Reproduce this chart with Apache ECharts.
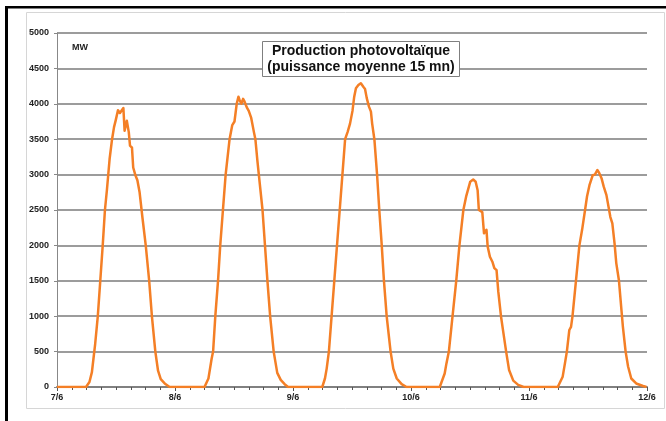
<!DOCTYPE html>
<html><head><meta charset="utf-8">
<script src="https://cdn.jsdelivr.net/npm/echarts@6/dist/echarts.min.js"></script>
<style>html,body{margin:0;padding:0;background:#fff}#c{width:666px;height:421px}</style>
</head><body><div id="c"></div>
<script>
// X tick labels (one per day, midnight)
const xTickLabels = ['7/6', '8/6', '9/6', '10/6', '11/6', '12/6'];
const hoursPerDay = 24;
const yMin = 0, yMax = 5000, yStep = 500;
const titleLines = ['Production photovoltaïque', '(puissance moyenne 15 mn)'];
const unitLabel = 'MW';

// [hour of day, MW]
const day1 = [[0,0],[5.9,0],[6.6,70],[7.1,210],[7.45,420],[7.75,600],[8.3,1000],[8.8,1500],[9.3,2000],[9.75,2500],[10.15,2780],[10.4,2980],[10.7,3220],[11.2,3500],[11.6,3670],[11.95,3770],[12.4,3910],[12.8,3870],[13.1,3850],[13.5,3940],[13.75,3620],[14.2,3760],[14.6,3600],[14.85,3410],[15.25,3380],[15.5,3100],[15.95,2990],[16.35,2920],[16.8,2750],[17.4,2380],[18.05,2000],[18.75,1500],[19.3,1000],[20.0,500],[20.55,230],[21.1,110],[21.9,50],[22.9,0]];
const day2 = [[0,0],[6.0,0],[6.8,120],[7.45,400],[7.75,500],[8.2,1000],[8.75,1500],[9.2,2000],[9.75,2500],[10.3,3000],[11.1,3500],[11.65,3700],[12.1,3750],[12.55,4000],[12.9,4100],[13.15,4050],[13.5,4000],[13.85,4070],[14.15,4030],[14.6,3950],[15.0,3900],[15.5,3800],[16.05,3600],[16.35,3500],[16.75,3200],[17.05,3000],[17.8,2500],[18.3,2000],[18.8,1500],[19.35,1000],[20.07,500],[20.8,200],[21.5,100],[22.3,40],[23.0,0]];
const day3 = [[0,0],[5.95,0],[6.5,120],[6.85,260],[7.3,500],[7.85,1000],[8.4,1500],[8.95,2000],[9.5,2500],[10.05,3000],[10.6,3500],[11.1,3600],[11.6,3720],[12.1,3900],[12.45,4100],[12.8,4220],[13.3,4265],[13.8,4290],[14.3,4240],[14.65,4210],[15.0,4080],[15.45,3960],[15.85,3890],[16.1,3720],[16.55,3500],[17.1,3000],[17.55,2500],[18.05,2000],[18.5,1500],[19.05,1000],[19.85,500],[20.4,260],[21.1,120],[22.1,40],[23.1,0]];
const day4 = [[0,0],[5.85,0],[6.85,190],[7.2,330],[7.7,500],[8.45,1000],[9.2,1500],[9.85,2000],[10.65,2500],[11.25,2700],[12.05,2900],[12.65,2930],[13.15,2900],[13.55,2780],[13.8,2500],[14.5,2470],[14.85,2170],[15.35,2220],[15.6,1980],[16.05,1840],[16.55,1770],[16.95,1680],[17.4,1650],[17.75,1350],[18.3,1000],[18.8,760],[19.35,500],[19.95,240],[20.8,90],[21.8,30],[22.9,0]];
const day5 = [[0,0],[5.85,0],[6.85,146],[7.3,330],[7.7,500],[8.2,805],[8.55,850],[8.85,1000],[9.55,1500],[10.25,2000],[10.8,2220],[11.4,2500],[11.8,2690],[12.3,2850],[12.95,2990],[13.4,3000],[13.9,3065],[14.3,3020],[14.75,2950],[15.2,2830],[15.75,2710],[16.0,2690],[16.55,2400],[16.95,2310],[17.4,2030],[17.75,1750],[18.3,1500],[18.8,1090],[19.1,850],[19.65,500],[20.15,290],[20.8,120],[21.8,50],[23.2,14],[23.9,0],[24,0]];

const days = [day1, day2, day3, day4, day5];
const seriesData = [];
days.forEach((d, i) => d.forEach(p => seriesData.push([i * hoursPerDay + p[0], p[1]])));

const FONT = '"Liberation Sans", Arial, sans-serif';
const chart = echarts.init(document.getElementById('c'), null, {renderer: 'canvas'});
chart.setOption({
  animation: false,
  backgroundColor: '#fff',
  grid: {left: 57, right: 19, top: 33, bottom: 34},
  xAxis: {
    type: 'value', min: 0, max: hoursPerDay * (xTickLabels.length - 1), interval: hoursPerDay,
    axisLine: {show: true, lineStyle: {color: '#808080', width: 2}},
    axisTick: {show: true, length: 4, lineStyle: {color: '#555', width: 1}},
    minorTick: {show: true, splitNumber: 8, length: 3, lineStyle: {color: '#555', width: 1}},
    splitLine: {show: false},
    axisLabel: {
      formatter: v => xTickLabels[Math.round(v / hoursPerDay)] || '',
      fontSize: 9, fontWeight: 'bold', color: '#222', margin: 6, fontFamily: FONT
    }
  },
  yAxis: {
    type: 'value', min: yMin, max: yMax, interval: yStep,
    axisLine: {show: true, lineStyle: {color: '#888', width: 1}},
    axisTick: {show: true, length: 3, lineStyle: {color: '#888'}},
    splitLine: {show: true, lineStyle: {color: '#9c9c9c', width: 2}},
    axisLabel: {formatter: v => String(v), fontSize: 9, fontWeight: 'bold', color: '#222', margin: 8, fontFamily: FONT}
  },
  series: [{
    type: 'line', data: seriesData, showSymbol: false, symbol: 'none',
    lineStyle: {color: '#f47f26', width: 2.5, join: 'round'},
    z: 5
  }],
  graphic: [
    {type: 'rect', shape: {x: 26.5, y: 12.5, width: 638, height: 396}, style: {fill: 'none', stroke: '#d6d6d6', lineWidth: 1}, z: -1, silent: true},
    {type: 'rect', shape: {x: 5, y: 6, width: 3, height: 415}, style: {fill: '#000'}, z: 50, silent: true},
    {type: 'rect', shape: {x: 5, y: 6, width: 661, height: 2.5}, style: {fill: '#000'}, z: 50, silent: true},
    {type: 'text', x: 72, y: 48, z: 50, silent: true,
      style: {text: unitLabel, fontSize: 9, fontWeight: 'bold', fontFamily: FONT, fill: '#222', verticalAlign: 'middle'}},
    {type: 'rect', shape: {x: 262.5, y: 41.5, width: 197, height: 35}, style: {fill: '#fff', stroke: '#7f7f7f', lineWidth: 1}, z: 60, silent: true},
    {type: 'text', x: 361, y: 59, z: 61, silent: true,
      style: {text: titleLines.join('\n'), fontSize: 14, fontWeight: 'bold', fontFamily: FONT, fill: '#111', align: 'center', verticalAlign: 'middle', lineHeight: 16}}
  ]
});
</script></body></html>
